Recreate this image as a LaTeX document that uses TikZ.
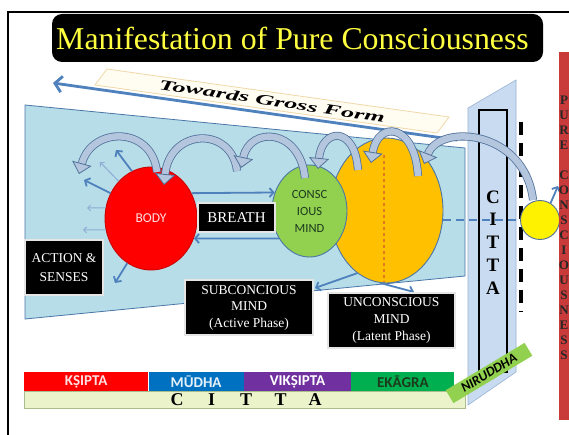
\documentclass[tikz,border=0pt]{standalone}
\usepackage{fontspec}
\setmainfont{Liberation Serif}
\setsansfont{Carlito}
\usepackage{xcolor}
\usepackage{tikz}
\usetikzlibrary{positioning,shapes.geometric,arrows.meta}
\definecolor{PanelBlue}{HTML}{B7DDE8}
\definecolor{PanelEdge}{HTML}{4A76A8}
\definecolor{FlowBlue}{HTML}{4F81BD}
\definecolor{ArcFill}{HTML}{B4C6DE}
\definecolor{ArcEdge}{HTML}{52719A}
\definecolor{TitleYellow}{HTML}{FFFF40}
\definecolor{StripCream}{HTML}{FFFDF2}
\definecolor{StripEdge}{HTML}{F0D8A8}
\definecolor{BodyRed}{HTML}{FF0000}
\definecolor{MindGreen}{HTML}{92D050}
\definecolor{MindText}{HTML}{1D3A1D}
\definecolor{DeepOrange}{HTML}{FFC000}
\definecolor{DashOrange}{HTML}{E07B20}
\definecolor{CittaBlue}{HTML}{C9DBF0}
\definecolor{SunYellow}{HTML}{FFF200}
\definecolor{PureRed}{HTML}{C93A3A}
\definecolor{BarRed}{HTML}{FF0000}
\definecolor{BarBlue}{HTML}{0070C0}
\definecolor{BarPurple}{HTML}{7030A0}
\definecolor{BarGreen}{HTML}{00B050}
\definecolor{BarPale}{HTML}{EBF3CB}
\definecolor{BarEdge}{HTML}{A8BC8C}

\begin{document}
\begin{tikzpicture}[x=1pt, y=-1pt, every node/.style={inner sep=0pt}]

    \tikzstyle{darkbox}=[
      fill=black,
      draw=black!10,
      line width=1.2pt,
      text=white,
      align=center,
      font=\fontsize{13.5}{17}\selectfont
    ]
    \tikzstyle{mind}=[ellipse, draw=PanelEdge, line width=0.9pt, align=center,
      font=\sffamily\fontsize{12.5}{17}\selectfont]
    \tikzstyle{flow}=[FlowBlue, line width=1.8pt, -{Straight Barb[length=4pt,width=9pt]}]
    \tikzstyle{faint}=[FlowBlue!65, line width=1pt, -{Straight Barb[length=3pt,width=6pt]}]
    \tikzstyle{swirl}=[ArcEdge, line width=0.8pt, double=ArcFill, double distance=6.5pt,
      -{Triangle[width=20pt,length=11pt,fill=ArcFill,color=ArcEdge,line width=0.8pt]}]
    \tikzstyle{band}=[minimum height=19pt, font=\sffamily\bfseries\fontsize{15}{15}\selectfont]
    \tikzstyle{pureletter}=[font=\bfseries\fontsize{13}{13}\selectfont, text=black!85]

    % --- Frame ---
    \useasboundingbox (0,0) rectangle (569,435);
    \fill[white] (0,0) rectangle (569,435);
    \draw[line width=2pt] (8,436) -- (8,12) -- (569,12);

    % --- Title ---
    \node[fill=black, rounded corners=10pt, minimum width=491pt, minimum height=48pt,
      text=TitleYellow, font=\fontsize{31.8}{31.8}\selectfont] (title) at (297.5,38)
      {\kern-10pt Manifestation of Pure Consciousness};

    % --- Towards gross form ---
    \draw[fill=StripCream, draw=StripEdge, line width=0.8pt]
      (107,69) -- (449,117) -- (437,133) -- (95,85) -- cycle;
    \node[rotate=-8.5] (gross) at (272,101)
      {\resizebox{228pt}{10pt}{\bfseries\itshape Towards Gross Form}};
    \coordinate (grossfrom) at (457,140);
    \coordinate (grossto) at (53,83);
    \draw[FlowBlue, line width=2.8pt, -{Straight Barb[length=7pt,width=16pt]}]
      (grossfrom) -- (grossto);

    % --- Field of the mind ---
    \draw[fill=PanelBlue, draw=PanelEdge, line width=0.8pt]
      (25,105) -- (465,148) -- (465,276) -- (25,319) -- cycle;

    % --- Bottom bars ---
    \node[draw=BarEdge, fill=BarPale, minimum width=441pt, minimum height=17pt,
      anchor=north west] (cittabar) at (24,391) {};
    \node[band, fill=BarRed, text=white!88!red, minimum width=124pt, anchor=north west]
      (ksipta) at (24,372) {KṢIPTA};
    \node[band, fill=BarBlue, text=white!90!BarBlue, minimum width=95pt, right=0pt of ksipta]
      (mudha) {MŪDHA};
    \node[band, fill=BarPurple, text=white, minimum width=107pt, right=0pt of mudha]
      (viksipta) {VIKṢIPTA};
    \node[band, fill=BarGreen, text=MindText, minimum width=103pt, right=0pt of viksipta]
      (ekagra) {EKĀGRA};
    \foreach \ch [count=\i] in {C,I,T,T,A}
      \node[font=\bfseries\fontsize{18}{18}\selectfont] (bc\i) at (142.5+34.5*\i,400) {\ch};

    % --- Citta panel ---
    \draw[fill=CittaBlue, draw=CittaBlue!60!PanelEdge, line width=0.6pt]
      (468,108) -- (516,80) -- (516,372) -- (468,405) -- cycle;
    \draw[line width=1.3pt] (479,110) rectangle (507,372);
    \draw[line width=4pt, dash pattern=on 13pt off 8pt] (521,122) -- (521,312);

    % --- Minds ---
    \node[ellipse, fill=BodyRed, draw=BodyRed!80!black, line width=0.9pt,
      minimum width=92pt, minimum height=103pt, text=white!88!red,
      font=\sffamily\fontsize{13.5}{13.5}\selectfont] (body) at (151,218.5) {BODY};
    \node[mind, fill=DeepOrange, minimum width=113pt, minimum height=145pt] (uncon) at (386.5,210.5) {};
    \draw[DashOrange, line width=1.2pt, dashed] (384,155) -- (384,282);
    \node[mind, fill=MindGreen, text=MindText, minimum width=75pt, minimum height=92pt]
      (mind) at (309.5,211) {CONSC\\IOUS\\MIND};

    % --- Outgoing arrows of the body ---
    \coordinate (out1) at (116,150);
    \coordinate (out2) at (100,162);
    \coordinate (out3) at (84,180);
    \coordinate (out4) at (87,208);
    \coordinate (out5) at (83,230);
    \coordinate (out6) at (115,283);
    \draw[flow] (body.112) -- (out1);
    \draw[faint] (body.131) -- (out2);
    \draw[flow] (body.148) -- (out3);
    \draw[faint] (body.167) -- (out4);
    \draw[faint] (body.194) -- (out5);
    \draw[flow] (body.242) -- (out6);

    % --- Body and conscious mind ---
    \draw[flow] (body.32) -- (mind.152);
    \draw[flow] (mind.222) -- (body.-25);

    % --- Lower arrows ---
    \coordinate (sub) at (315,288);
    \coordinate (lat) at (414,292);
    \draw[flow] (uncon.245) -- (sub);
    \draw[flow] (uncon.265) -- (lat);

    % --- Labels ---
    \node[darkbox, font=\fontsize{15}{15}\selectfont, minimum width=77pt, minimum height=29pt]
      (breath) at (236.5,217.5) {BREATH};
    \node[darkbox, font=\fontsize{13.5}{19}\selectfont, minimum width=78pt, minimum height=55pt]
      (action) at (64,267.5) {ACTION \&\\SENSES};
    \node[darkbox, font=\fontsize{13.5}{16.5}\selectfont, minimum width=128pt, minimum height=55pt]
      (subcon) at (249,307.5) {SUBCONCIOUS\\MIND\\(Active Phase)};
    \node[darkbox, font=\fontsize{13.5}{17}\selectfont, minimum width=127pt, minimum height=55pt]
      (latent) at (391.5,320.5) {UNCONSCIOUS\\MIND\\(Latent Phase)};

    % --- Pure consciousness ---
    \node[circle, fill=SunYellow, draw=ArcEdge, line width=0.9pt, minimum size=39pt]
      (pure) at (540,220) {};
    \draw[FlowBlue, line width=1.2pt, dashed, dash pattern=on 8pt off 5pt]
      (uncon.east |- pure.west) -- (pure.west);
    \foreach \ch [count=\i] in {C,I,T,T,A}
      \node[font=\bfseries\fontsize{19}{19}\selectfont] (cl\i) at (493,174.25+22.75*\i) {\ch};

    % --- Curved arrows ---
    \coordinate (t1) at (157,172);  \coordinate (h1) at (79,174);
    \coordinate (t2) at (237,171);  \coordinate (h2) at (164,185);
    \coordinate (t3) at (305,178);  \coordinate (h3) at (241,168);
    \coordinate (t4) at (358,170);  \coordinate (h4) at (318,169);
    \coordinate (t5) at (418,176);  \coordinate (h5) at (371,163);
    \coordinate (t6) at (533,200);  \coordinate (h6) at (424,164);
    \draw[swirl] (t1) .. controls (152,126) and (92,126) .. (h1);
    \draw[swirl] (t2) .. controls (232,126) and (170,128) .. (h2);
    \draw[swirl] (t3) .. controls (300,128) and (250,126) .. (h3);
    \draw[swirl] (t4) .. controls (355,125) and (322,128) .. (h4);
    \draw[swirl] (t5) .. controls (415,123) and (378,120) .. (h5);
    \draw[swirl] (t6) .. controls (525,130) and (440,123) .. (h6);

    \coordinate (rise) at (558,186);
    \draw[flow] (pure.58) -- (rise);

    % --- Right band ---
    \fill[PureRed] (559,52) rectangle (569,420);
    \foreach \ch [count=\i] in {P,U,R,E}
      \node[pureletter] (pu\i) at (564,85+15*\i) {\ch};
    \foreach \ch [count=\i] in {C,O,N,S,C,I,O,U,S,N,E,S,S}
      \node[pureletter] (co\i) at (564,160+15*\i) {\ch};

    % --- Niruddha ---
    \node[fill=MindGreen, rotate=31, minimum width=92pt, minimum height=15pt,
      font=\sffamily\bfseries\itshape\fontsize{13.5}{13.5}\selectfont] (niruddha) at (489,373) {NIRUDDHA};

  \end{tikzpicture}
\end{document}
